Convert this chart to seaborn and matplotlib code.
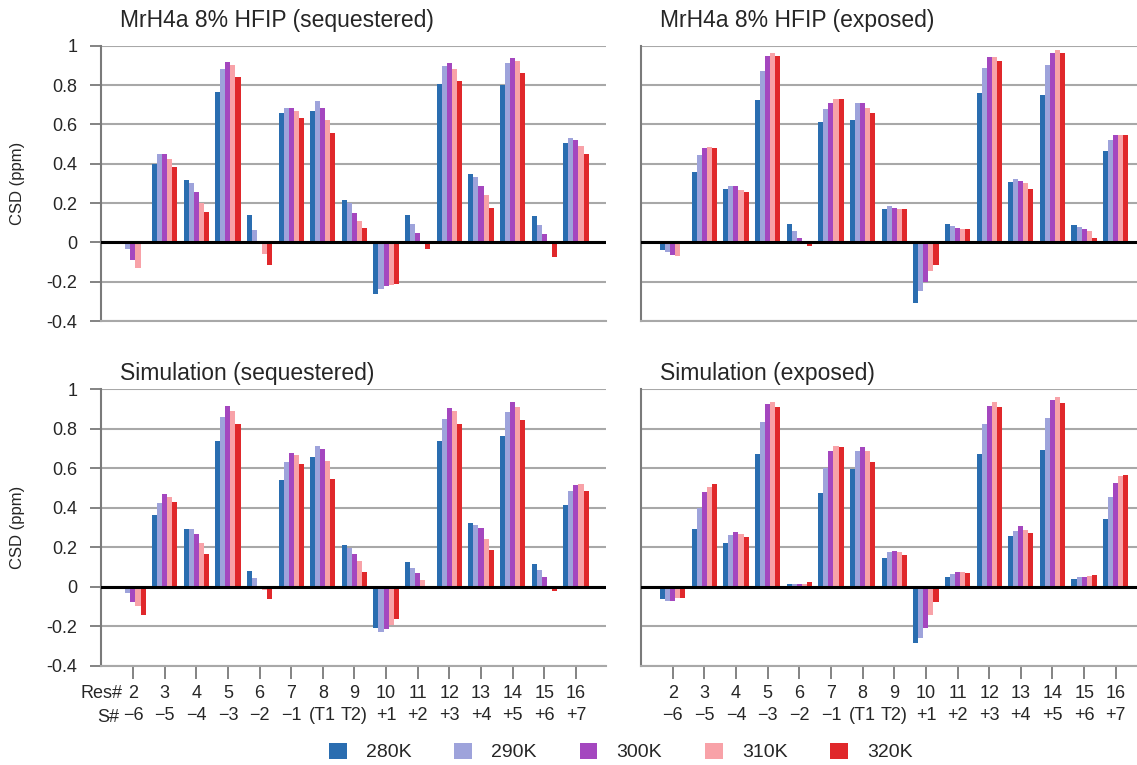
import numpy as np
import pandas as pd
import matplotlib
matplotlib.use("Agg")
import matplotlib.pyplot as plt
import seaborn as sns
from matplotlib.patches import Patch
from matplotlib import font_manager

# ---------------- data ----------------
residues = ["2", "3", "4", "5", "6", "7", "8", "9", "10", "11", "12", "13", "14", "15", "16"]
s_numbers = ["\u22126", "\u22125", "\u22124", "\u22123", "\u22122", "\u22121", "(T1", "T2)",
             "+1", "+2", "+3", "+4", "+5", "+6", "+7"]
temps = ["280K", "290K", "300K", "310K", "320K"]
colors = ["#2a6db0", "#9ea3db", "#a447bf", "#f8a2a8", "#e0282b"]

titles = ["MrH4a 8% HFIP (sequestered)", "MrH4a 8% HFIP (exposed)",
          "Simulation (sequestered)", "Simulation (exposed)"]

# MrH4a 8% HFIP (sequestered)
exp_seq_280 = [0.0, 0.40, 0.316, 0.765, 0.141, 0.658, 0.668, 0.214, -0.261, 0.141, 0.803, 0.349, 0.798, 0.132, 0.507]
exp_seq_290 = [-0.032, 0.448, 0.30, 0.884, 0.064, 0.685, 0.718, 0.20, -0.236, 0.095, 0.895, 0.332, 0.912, 0.09, 0.532]
exp_seq_300 = [-0.09, 0.448, 0.256, 0.918, 0.0, 0.682, 0.684, 0.151, -0.224, 0.047, 0.912, 0.285, 0.939, 0.041, 0.519]
exp_seq_310 = [-0.13, 0.426, 0.20, 0.904, -0.058, 0.667, 0.624, 0.107, -0.219, 0.0, 0.88, 0.239, 0.92, 0.0, 0.49]
exp_seq_320 = [0.0, 0.383, 0.154, 0.841, -0.117, 0.633, 0.556, 0.073, -0.21, -0.032, 0.82, 0.175, 0.863, -0.075, 0.447]

# MrH4a 8% HFIP (exposed)
exp_exp_280 = [-0.041, 0.358, 0.269, 0.722, 0.095, 0.612, 0.624, 0.171, -0.307, 0.095, 0.759, 0.307, 0.751, 0.086, 0.463]
exp_exp_290 = [-0.051, 0.442, 0.286, 0.871, 0.056, 0.68, 0.71, 0.183, -0.249, 0.085, 0.888, 0.322, 0.903, 0.078, 0.522]
exp_exp_300 = [-0.063, 0.48, 0.285, 0.946, 0.024, 0.71, 0.71, 0.176, -0.202, 0.073, 0.942, 0.312, 0.964, 0.069, 0.544]
exp_exp_310 = [-0.068, 0.485, 0.268, 0.963, 0.005, 0.727, 0.683, 0.169, -0.146, 0.066, 0.942, 0.302, 0.976, 0.056, 0.547]
exp_exp_320 = [0.0, 0.481, 0.256, 0.946, -0.019, 0.73, 0.658, 0.169, -0.114, 0.066, 0.922, 0.273, 0.963, 0.024, 0.547]

# Simulation (sequestered)
sim_seq_280 = [0.0, 0.363, 0.292, 0.74, 0.081, 0.54, 0.659, 0.211, -0.211, 0.125, 0.74, 0.321, 0.761, 0.113, 0.414]
sim_seq_290 = [-0.034, 0.422, 0.292, 0.861, 0.042, 0.63, 0.713, 0.198, -0.228, 0.096, 0.85, 0.313, 0.884, 0.085, 0.485]
sim_seq_300 = [-0.076, 0.468, 0.267, 0.916, 0.0, 0.676, 0.698, 0.164, -0.216, 0.071, 0.904, 0.299, 0.938, 0.047, 0.516]
sim_seq_310 = [-0.10, 0.456, 0.22, 0.89, -0.017, 0.667, 0.639, 0.13, -0.194, 0.034, 0.89, 0.242, 0.91, 0.005, 0.521]
sim_seq_320 = [-0.144, 0.431, 0.164, 0.824, -0.063, 0.622, 0.544, 0.074, -0.164, -0.014, 0.825, 0.186, 0.842, -0.02, 0.485]

# Simulation (exposed)
sim_exp_280 = [-0.064, 0.292, 0.22, 0.673, 0.012, 0.473, 0.595, 0.144, -0.284, 0.051, 0.673, 0.254, 0.69, 0.039, 0.342]
sim_exp_290 = [-0.071, 0.397, 0.262, 0.833, 0.012, 0.60, 0.685, 0.174, -0.262, 0.064, 0.823, 0.282, 0.854, 0.047, 0.453]
sim_exp_300 = [-0.071, 0.477, 0.276, 0.926, 0.014, 0.685, 0.705, 0.178, -0.211, 0.076, 0.916, 0.308, 0.947, 0.051, 0.524]
sim_exp_310 = [-0.059, 0.504, 0.267, 0.938, 0.015, 0.713, 0.685, 0.174, -0.146, 0.076, 0.938, 0.287, 0.96, 0.054, 0.563]
sim_exp_320 = [-0.059, 0.521, 0.25, 0.91, 0.022, 0.71, 0.629, 0.16, -0.078, 0.071, 0.91, 0.27, 0.933, 0.059, 0.566]

panels = [
    [exp_seq_280, exp_seq_290, exp_seq_300, exp_seq_310, exp_seq_320],
    [exp_exp_280, exp_exp_290, exp_exp_300, exp_exp_310, exp_exp_320],
    [sim_seq_280, sim_seq_290, sim_seq_300, sim_seq_310, sim_seq_320],
    [sim_exp_280, sim_exp_290, sim_exp_300, sim_exp_310, sim_exp_320],
]

# ---------------- style ----------------
sns.set_style("white")
available = {f.name for f in font_manager.fontManager.ttflist}
base_family = ["Liberation Sans", "DejaVu Sans"]
narrow_family = (["Liberation Sans Narrow"] if "Liberation Sans Narrow" in available else []) + base_family
plt.rcParams["font.family"] = base_family

W, H = 1137, 765
fig = plt.figure(figsize=(W / 100, H / 100), dpi=100)

def rect(left_px, right_px, top_px, bottom_px):
    return [left_px / W, 1 - bottom_px / H, (right_px - left_px) / W, (bottom_px - top_px) / H]

rects = [rect(101, 606, 45.7, 321), rect(641, 1137, 45.7, 321),
         rect(101, 606, 389.3, 665.5), rect(641, 1137, 389.3, 665.5)]
xlims = [(-1.01, 14.95), (-1.0, 14.67), (-1.01, 14.95), (-1.0, 14.67)]

grid_color = "#a8a8a8"
spine_color = "#7a7a7a"
yticks = [-0.4, -0.2, 0.0, 0.2, 0.4, 0.6, 0.8, 1.0]

def fmt(v):
    if abs(v) < 1e-9:
        return "0"
    if abs(v - 1) < 1e-9:
        return "1"
    return f"{v:.1f}".replace("\u2212", "-")

tick_fs = 13

for i, (series, r) in enumerate(zip(panels, rects)):
    ax = fig.add_axes(r)
    rows = []
    for t, vals in zip(temps, series):
        for res, v in zip(residues, vals):
            rows.append({"Res": res, "T": t, "CSD": v})
    df = pd.DataFrame(rows)
    sns.barplot(data=df, x="Res", y="CSD", hue="T", order=residues, hue_order=temps,
                palette=colors, saturation=1, width=0.8, linewidth=0, edgecolor="none",
                ax=ax, legend=False)
    ax.set_xlim(*xlims[i])
    ax.set_ylim(-0.4, 1.0)
    ax.set_yticks(yticks)
    ax.yaxis.grid(True, color=grid_color, lw=1.5)
    ax.xaxis.grid(False)
    ax.set_axisbelow(True)
    ax.axhline(0, color="black", lw=2.2, zorder=5)
    ax.set_xlabel("")
    ax.set_ylabel("")
    for s in ["top", "right"]:
        ax.spines[s].set_visible(False)
    ax.spines["left"].set_color(spine_color)
    ax.spines["left"].set_linewidth(1.5)
    ax.spines["bottom"].set_color(grid_color)
    ax.spines["bottom"].set_linewidth(1.5)

    if i % 2 == 0:
        ax.set_yticklabels([fmt(v) for v in yticks], fontsize=13)
        ax.tick_params(axis="y", left=True, length=8, width=1.3, color=spine_color, pad=9)
    else:
        ax.tick_params(axis="y", left=False, labelleft=False)

    if i >= 2:
        ax.set_xticks(range(len(residues)))
        ax.set_xticklabels([f"{a}\n{b}" for a, b in zip(residues, s_numbers)],
                           fontsize=tick_fs, linespacing=1.38, family=narrow_family)
        ax.tick_params(axis="x", bottom=True, length=9, width=1.3, color=spine_color, pad=5)
    else:
        ax.tick_params(axis="x", bottom=False, labelbottom=False)

# titles
title_pos = [(120, 20), (660, 20), (120, 373), (660, 373)]
for t, (x, y) in zip(titles, title_pos):
    fig.text(x / W, 1 - y / H, t, ha="left", va="center", fontsize=16.5)

# y labels
for y in [183, 527]:
    fig.text(18 / W, 1 - y / H, "CSD (ppm)", rotation=90, ha="center", va="center", fontsize=12)

# row labels for x tick rows
fig.text(123 / W, 1 - 693 / H, "Res#", ha="right", va="center", fontsize=tick_fs, family=narrow_family)
fig.text(119 / W, 1 - 717 / H, "S#", ha="right", va="center", fontsize=tick_fs, family=narrow_family)

# legend
handles = [Patch(facecolor=c, edgecolor="none", label=t) for t, c in zip(temps, colors)]
fig.legend(handles=handles, loc="center", bbox_to_anchor=(621 / W, 1 - 752 / H), ncol=5,
           frameon=False, fontsize=14, handlelength=0.9, handleheight=0.9,
           handletextpad=1.0, columnspacing=2.2, borderaxespad=0, borderpad=0)

fig.savefig("out.png", dpi=100)
